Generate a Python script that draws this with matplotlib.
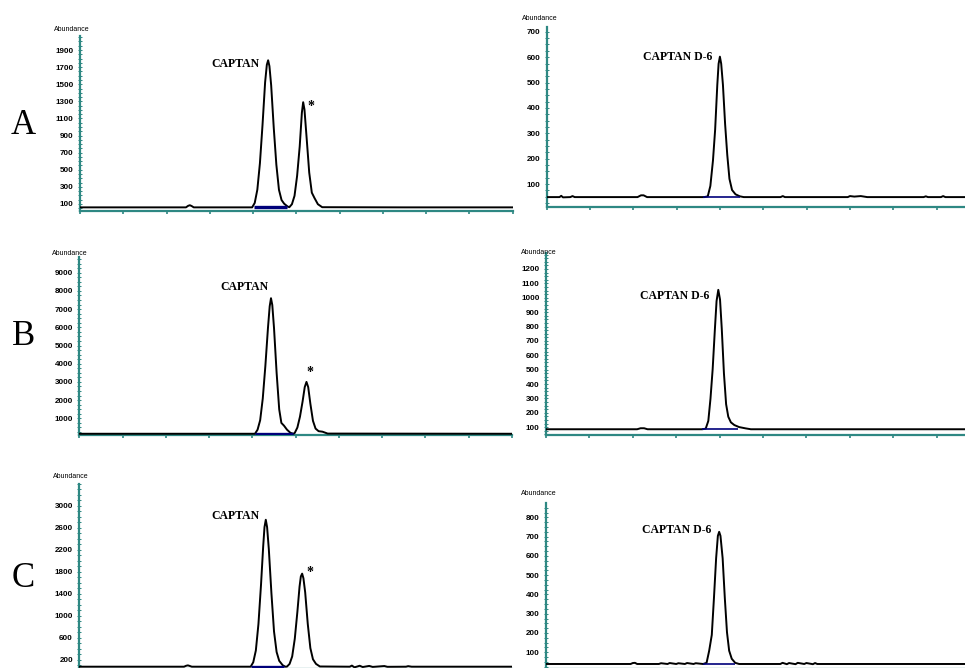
import matplotlib.pyplot as plt
from matplotlib.ticker import AutoMinorLocator

# chromatogram traces: retention (tick units) and abundance
time_a = [0.0, 1.2, 2.45, 2.50, 2.54, 2.58, 2.63, 3.98, 4.04, 4.10, 4.16, 4.22, 4.28, 4.32, 4.35,
          4.38, 4.42, 4.48, 4.54, 4.60, 4.66, 4.72, 4.80, 4.84, 4.90, 4.96, 5.02, 5.08, 5.13, 5.16,
          5.19, 5.24, 5.30, 5.36, 5.42, 5.50, 5.60, 7.5, 10.0]
abund_a = [60, 60, 60, 78, 85, 76, 60, 60, 112, 266, 576, 1023, 1522, 1728, 1780,
           1711, 1488, 989, 559, 266, 146, 103, 70, 62, 97, 195, 429, 773, 1167, 1290,
           1204, 872, 466, 232, 171, 97, 62, 60, 60]

time_b = [0.0, 4.06, 4.12, 4.18, 4.24, 4.30, 4.36, 4.40, 4.43, 4.46, 4.50, 4.56, 4.62, 4.67, 4.73,
          4.80, 4.88, 4.95, 4.98, 5.04, 5.10, 5.16, 5.21, 5.25, 5.29, 5.34, 5.40, 5.46, 5.53, 5.62,
          5.74, 10.0]
abund_b = [150, 150, 374, 895, 2087, 3875, 5961, 7153, 7600, 7228, 5961, 3503, 1491, 746, 597,
           374, 200, 150, 200, 492, 1090, 1917, 2715, 3000, 2715, 1803, 862, 435, 292, 264,
           160, 150]

time_c = [0.0, 2.42, 2.47, 2.51, 2.55, 2.60, 3.96, 4.02, 4.08, 4.14, 4.20, 4.25, 4.28, 4.31, 4.34,
          4.38, 4.44, 4.50, 4.56, 4.62, 4.70, 4.76, 4.80, 4.86, 4.92, 4.98, 5.04, 5.09, 5.12, 5.15,
          5.18, 5.22, 5.28, 5.34, 5.40, 5.47, 5.56, 6.25, 6.30, 6.36, 6.48, 6.55, 6.70, 6.78, 7.05,
          7.12, 7.55, 7.60, 7.68, 10.0]
abund_c = [78, 78, 95, 102, 92, 78, 78, 158, 372, 853, 1574, 2269, 2616, 2750, 2616,
           2216, 1414, 719, 345, 185, 105, 78, 80, 129, 264, 586, 1076, 1533, 1719, 1770,
           1685, 1432, 856, 416, 213, 129, 82, 78, 98, 66, 95, 72, 92, 74, 90,
           76, 78, 88, 78, 78]

time_ad = [0.0, 0.30, 0.34, 0.38, 0.55, 0.60, 0.65, 2.10, 2.18, 2.24, 2.32, 3.64, 3.72, 3.78, 3.84,
           3.89, 3.94, 3.97, 4.00, 4.03, 4.07, 4.12, 4.17, 4.22, 4.28, 4.36, 4.46, 4.55, 5.40, 5.45,
           5.50, 6.95, 7.00, 7.10, 7.25, 7.40, 8.70, 8.75, 8.80, 9.10, 9.15, 9.20, 10.0]
abund_ad = [49, 49, 54, 48, 49, 53, 49, 49, 56, 56, 49, 49, 52, 93, 193,
            314, 491, 574, 602, 574, 491, 337, 215, 121, 77, 60, 52, 49, 49, 53,
            49, 49, 53, 51, 53, 49, 49, 52, 49, 49, 53, 49, 49]

time_bd = [0.0, 2.10, 2.18, 2.26, 2.34, 3.60, 3.68, 3.74, 3.79, 3.84, 3.89, 3.93, 3.97, 4.01, 4.05,
           4.10, 4.15, 4.20, 4.26, 4.34, 4.45, 4.60, 4.72, 10.0]
abund_bd = [86, 86, 93, 93, 86, 86, 90, 144, 299, 503, 774, 977, 1055, 987, 784,
            474, 260, 173, 134, 115, 101, 92, 86, 86]

time_cd = [0.0, 1.95, 2.00, 2.05, 2.10, 2.60, 2.65, 2.80, 2.85, 3.00, 3.05, 3.20, 3.25, 3.40, 3.45,
           3.62, 3.70, 3.76, 3.82, 3.87, 3.92, 3.96, 3.99, 4.02, 4.07, 4.12, 4.17, 4.22, 4.28, 4.36,
           4.45, 5.40, 5.45, 5.55, 5.60, 5.75, 5.80, 5.95, 6.00, 6.15, 6.20, 6.25, 10.0]
abund_cd = [39, 39, 44, 45, 39, 39, 43, 39, 44, 39, 43, 39, 44, 39, 43,
            39, 45, 108, 190, 382, 588, 704, 725, 704, 588, 382, 204, 108, 66, 45,
            39, 39, 45, 38, 44, 38, 45, 39, 44, 38, 44, 39, 39]

# integrated baseline under the analyte peak
integ_start = [4.02, 3.61, 4.06, 3.59, 3.96, 3.62]
integ_end = [4.78, 4.47, 4.95, 4.43, 4.73, 4.36]
integ_level = [60, 49, 150, 86, 78, 39]

# y axis ranges and labelled ticks
y_limits = [(21, 2064), (10, 720), (82, 9880), (46, 1313), (36, 3400), (13, 873)]
y_ticks = [range(100, 2000, 200), range(100, 800, 100), range(1000, 10000, 1000),
           range(100, 1300, 100), range(200, 3400, 400), range(100, 900, 100)]

peak_names = ['CAPTAN', 'CAPTAN D-6', 'CAPTAN', 'CAPTAN D-6', 'CAPTAN', 'CAPTAN D-6']
name_pos = [(4.16, 1736), (3.83, 602), (4.38, 8231), (3.76, 1012), (4.17, 2824), (3.81, 734)]
star_pos = [(5.33, 1245), None, (5.33, 3510), None, (5.33, 1787), None]
row_letters = ['A', 'B', 'C']

traces = [(time_a, abund_a), (time_ad, abund_ad), (time_b, abund_b),
          (time_bd, abund_bd), (time_c, abund_c), (time_cd, abund_cd)]

W, H = 965, 668
fig = plt.figure(figsize=(W / 100, H / 100), dpi=100)
plt.rcParams['font.family'] = 'Liberation Sans'

teal = '#2e8883'
navy = '#00007a'

# panel boxes in pixels: left, top, right, bottom
boxes = [(80, 36, 512.5, 210.7), (546.5, 26.7, 980, 207),
         (79.3, 256.7, 512, 435), (546, 252.7, 980, 435),
         (79.3, 484, 512, 669), (546, 503.3, 980, 669)]
abund_lbl = [(72, 29.3), (540, 18.3), (70, 253.3), (538.3, 252.7), (70.7, 476), (538.3, 493.3)]
letter_y = [125, 336.5, 578.3]

for i, (t, y) in enumerate(traces):
    l, tp, r, b = boxes[i]
    ax = fig.add_axes([l / W, 1 - b / H, (r - l) / W, (b - tp) / H])
    ax.plot(t, y, color='black', lw=1.4, zorder=3)
    left_col = i % 2 == 0
    ax.plot([integ_start[i], integ_end[i]], [integ_level[i], integ_level[i]],
            color=navy, lw=2.4 if left_col else 1.2, solid_capstyle='butt', zorder=4)

    ax.set_xlim(0, 10)
    ax.set_ylim(*y_limits[i])
    ax.set_xticks(range(11))
    ax.set_xticklabels([])
    ax.set_yticks(list(y_ticks[i]))
    ax.yaxis.set_minor_locator(AutoMinorLocator(4))
    for s in ['top', 'right']:
        ax.spines[s].set_visible(False)
    for s in ['left', 'bottom']:
        ax.spines[s].set_color(teal)
        ax.spines[s].set_linewidth(1.6)
    ax.tick_params(axis='x', colors=teal, direction='out', length=2.5, width=1.2)
    ax.tick_params(axis='y', which='both', colors=teal, direction='inout', length=2.2,
                   width=0.7, labelcolor='black', labelsize=5.8, pad=3.5)
    for lab in ax.get_yticklabels():
        lab.set_fontweight('bold')

    ax.text(*name_pos[i], peak_names[i], ha='right', va='center', fontsize=8.5,
            fontweight='bold', family='Liberation Serif')
    if star_pos[i] is not None:
        ax.text(*star_pos[i], '*', ha='center', va='center', fontsize=10,
                fontweight='bold', family='Liberation Serif')

    fig.text(abund_lbl[i][0] / W, 1 - abund_lbl[i][1] / H, 'Abundance',
             ha='center', va='center', fontsize=5)

for letter, ly in zip(row_letters, letter_y):
    fig.text(23.3 / W, 1 - ly / H, letter, ha='center', va='center', fontsize=25,
             family='Liberation Serif')

fig.savefig('out.png', dpi=100)
